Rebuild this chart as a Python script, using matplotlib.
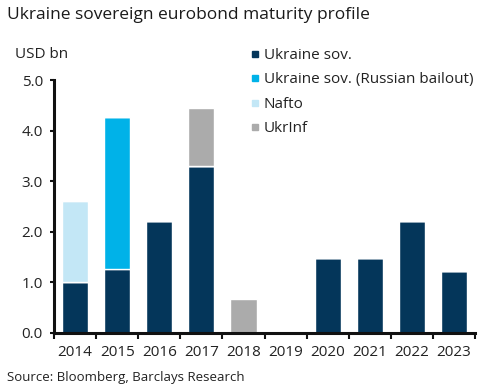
import matplotlib
matplotlib.use("Agg")
import matplotlib.pyplot as plt
from matplotlib.lines import Line2D
import numpy as np

years = ["2014", "2015", "2016", "2017", "2018", "2019", "2020", "2021", "2022", "2023"]
ukraine_sov = [1.0, 1.27, 2.22, 3.3, 0.0, 0.0, 1.48, 1.48, 2.22, 1.23]
russian_bailout = [0.0, 3.0, 0.0, 0.0, 0.0, 0.0, 0.0, 0.0, 0.0, 0.0]
nafto = [1.6, 0.0, 0.0, 0.0, 0.0, 0.0, 0.0, 0.0, 0.0, 0.0]
ukrinf = [0.0, 0.0, 0.0, 1.15, 0.67, 0.0, 0.0, 0.0, 0.0, 0.0]
series_names = ["Ukraine sov.", "Ukraine sov. (Russian bailout)", "Nafto", "UkrInf"]
colors = ["#04365A", "#00B2E8", "#C3E7F6", "#ABABAB"]

plt.rcParams['font.family'] = ['Open Sans', 'DejaVu Sans']

fig = plt.figure(figsize=(4.99, 3.86), dpi=100)
ax = fig.add_axes([54/499, 53/386, (475-54)/499, (333-80)/386])

x = np.arange(len(years))
bottom = np.zeros(len(years))
for vals, col in zip([ukraine_sov, russian_bailout, nafto, ukrinf], colors):
    v = np.array(vals)
    ax.bar(x, v, width=0.62, bottom=bottom, color=col, edgecolor="white", linewidth=1.0)
    bottom += v

ax.set_xlim(-0.5, len(years) - 0.5)
ax.set_ylim(0, 5)
ax.set_yticks(np.arange(0, 5.01, 1.0))
ax.set_yticklabels([f"{t:.1f}" for t in np.arange(0, 5.01, 1.0)], fontsize=11, color="#222222")
ax.set_xticks(x)
ax.set_xticklabels(years, fontsize=11, color="#222222")
ax.set_xticks(np.arange(-0.5, len(years), 1.0), minor=True)
ax.tick_params(axis="x", which="major", length=0, pad=9)
ax.tick_params(axis="x", which="minor", length=4, width=1.5, direction="out", color="#111111")
ax.tick_params(axis="y", length=3, width=1.5, direction="out", color="#111111", pad=5)
for s in ["top", "right"]:
    ax.spines[s].set_visible(False)
for s in ["left", "bottom"]:
    ax.spines[s].set_linewidth(2.2)
    ax.spines[s].set_color("#111111")

fig.text(7/499, 1 - 15/386, "Ukraine sovereign eurobond maturity profile", fontsize=12.5,
         fontweight="medium", va="center", ha="left", color="#1a1a1a")
fig.text(15/499, 1 - 54/386, "USD bn", fontsize=11, va="center", ha="left", color="#222222")
fig.text(7/499, 1 - 378/386, "Source: Bloomberg, Barclays Research", fontsize=9.5,
         va="center", ha="left", color="#222222")

handles = [Line2D([0], [0], marker="s", linestyle="none", markersize=5,
                  markerfacecolor=c, markeredgecolor=c) for c in colors]
leg = fig.legend(handles, series_names, loc="upper left", bbox_to_anchor=(250/499, 1 - 48/386),
                 frameon=False, fontsize=11, handlelength=0.6, handletextpad=0.3,
                 labelspacing=0.62, borderaxespad=0, borderpad=0)
for t in leg.get_texts():
    t.set_color("#222222")

fig.savefig("out.png", dpi=100)
